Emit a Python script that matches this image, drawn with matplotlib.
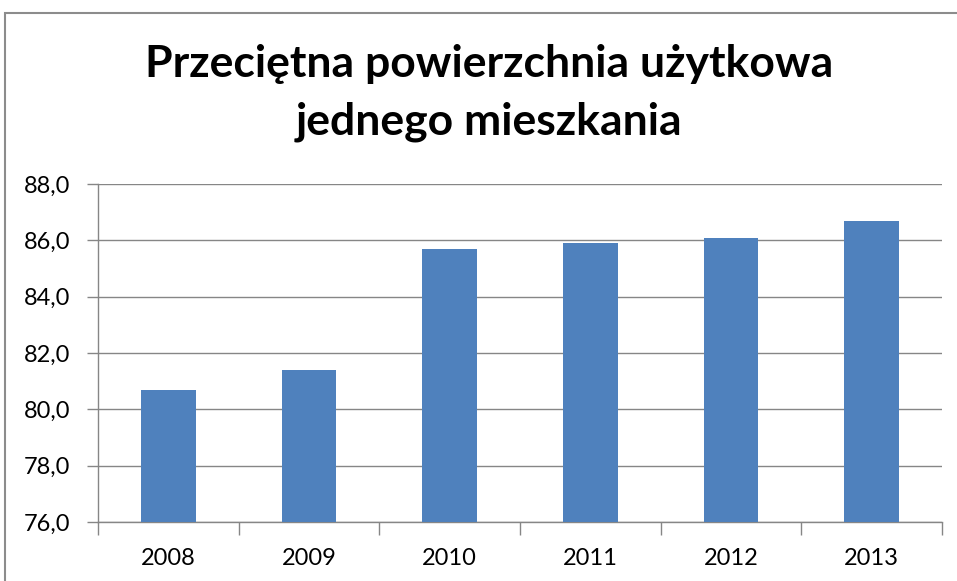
import matplotlib.pyplot as plt
from matplotlib.patches import Rectangle
from matplotlib.ticker import FixedLocator, NullFormatter

years = ['2008', '2009', '2010', '2011', '2012', '2013']
area = [80.7, 81.4, 85.7, 85.9, 86.1, 86.7]
yticks = [76, 78, 80, 82, 84, 86, 88]
title_lines = ['Przeciętna powierzchnia użytkowa', 'jednego mieszkania']

plt.rcParams['font.family'] = ['Lato', 'DejaVu Sans']

fig = plt.figure(figsize=(9.57, 5.81), dpi=100)

# gray frame of the embedded chart (runs off the right and bottom edges)
fig.patches.append(Rectangle((5 / 957, -0.1), 1.2, (581 - 13) / 581 + 0.1,
                             transform=fig.transFigure, fill=False,
                             edgecolor='#8c8c8c', linewidth=1.5))

ax = fig.add_axes([98 / 957, 59 / 581, 844 / 957, 338 / 581])
x = list(range(len(years)))
ax.bar(x, area, width=0.39, color='#4F81BD', bottom=0, zorder=3)

ax.set_xlim(-0.5, len(years) - 0.5)
ax.set_ylim(76, 88)
ax.set_yticks(yticks)
ax.set_yticklabels(['{:.1f}'.format(v).replace('.', ',') for v in yticks], fontsize=17)
ax.set_xticks(x)
ax.set_xticklabels(years, fontsize=17)
ax.tick_params(axis='x', length=0, pad=19)
ax.xaxis.set_minor_locator(FixedLocator([i - 0.5 for i in range(len(years) + 1)]))
ax.xaxis.set_minor_formatter(NullFormatter())
ax.tick_params(axis='x', which='minor', length=9, color='#868686', width=1)
ax.tick_params(axis='y', length=8, color='#868686', width=1, pad=12)

ax.grid(axis='y', color='#868686', linewidth=1, zorder=0)
for s in ['top', 'right']:
    ax.spines[s].set_visible(False)
for s in ['left', 'bottom']:
    ax.spines[s].set_color('#868686')
    ax.spines[s].set_linewidth(1)

fig.text(0.511, 1 - 77 / 581, title_lines[0], ha='center', va='baseline',
         fontsize=32, fontweight='bold')
fig.text(0.511, 1 - 135 / 581, title_lines[1], ha='center', va='baseline',
         fontsize=32, fontweight='bold')

fig.savefig('out.png', dpi=100)
plt.close()
